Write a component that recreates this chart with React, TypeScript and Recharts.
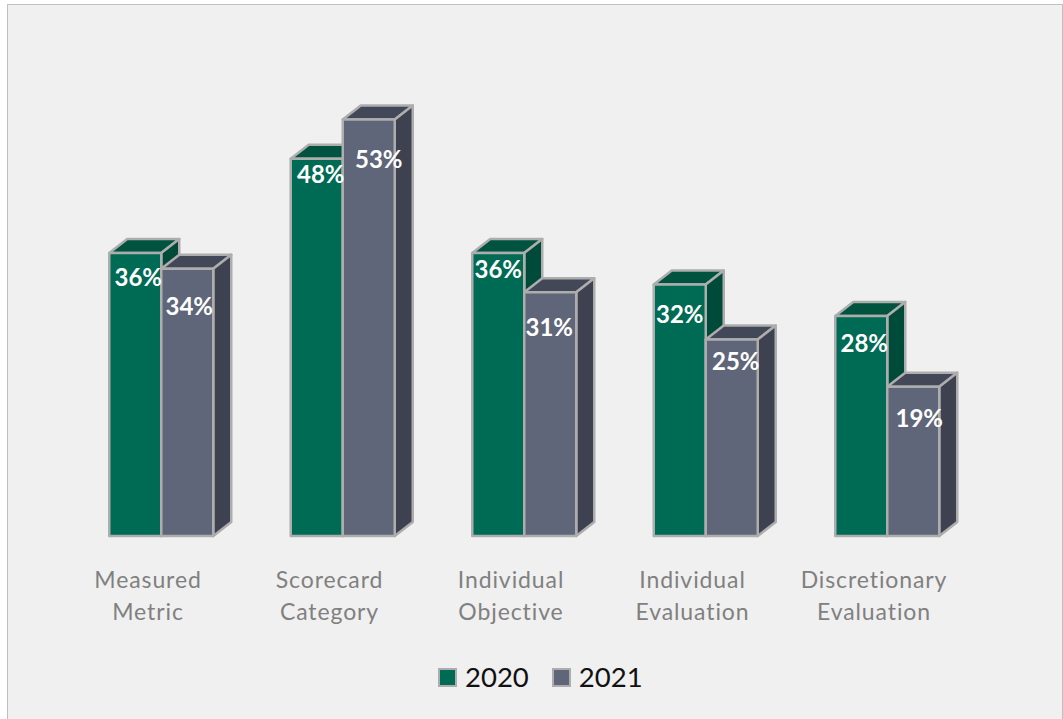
import { BarChart, Bar, XAxis, YAxis, Legend, LabelList } from 'recharts';

const categories = ['Measured Metric', 'Scorecard Category', 'Individual Objective', 'Individual Evaluation', 'Discretionary Evaluation'];
const values2020 = [36, 48, 36, 32, 28];
const values2021 = [34, 53, 31, 25, 19];

const data = categories.map((name, i) => ({ name, y2020: values2020[i], y2021: values2021[i] }));

// label nudges from the centre-top of each bar, the original labels were placed by hand
const nudge2020 = [[3, 23], [4, 15], [0, 15], [0, 29], [3, 27]];
const nudge2021 = [[2, 37], [10, 39], [-1, 34], [4, 21], [6, 31]];

const DX = 18;
const DY = 14;
const EDGE = '#adadad';

function box(front: string, top: string, side: string) {
  return (p: any) => {
    const { x, y, width: w, height: h } = p;
    return (
      <g stroke={EDGE} strokeWidth={2.5} strokeLinejoin="round">
        <polygon points={`${x},${y} ${x + DX},${y - DY} ${x + w + DX},${y - DY} ${x + w},${y}`} fill={top} />
        <polygon points={`${x + w},${y} ${x + w + DX},${y - DY} ${x + w + DX},${y + h - DY} ${x + w},${y + h}`} fill={side} />
        <rect x={x} y={y} width={w} height={h} fill={front} />
      </g>
    );
  };
}

function valueLabel(nudge: number[][]) {
  return (p: any) => {
    const [dx, dy] = nudge[p.index];
    return (
      <text
        x={p.x + p.width / 2 + dx}
        y={p.y + dy}
        textAnchor="middle"
        dominantBaseline="central"
        fill="#fff"
        fontWeight={700}
        fontSize={24}
        fontFamily="Lato"
      >
        {p.value}%
      </text>
    );
  };
}

function CategoryTick({ x, y, payload }: any) {
  const words = String(payload.value).split(' ');
  return (
    <g>
      {words.map((w, i) => (
        <text key={w} x={x - 13} y={y + 44 + i * 32} textAnchor="middle" fill="#808080" fontSize={23} letterSpacing={0.9} fontFamily="Lato">
          {w}
        </text>
      ))}
    </g>
  );
}

function LegendRow({ payload }: any) {
  return (
    <div style={{ display: 'flex', fontFamily: 'Lato', fontSize: 27.5, color: '#111', lineHeight: '34px' }}>
      {payload.map((e: any) => (
        <div key={e.value} style={{ display: 'flex', alignItems: 'center', marginRight: 23 }}>
          <span style={{ width: 15, height: 15, background: e.color, border: '2px solid #adadad', marginRight: 8 }} />
          {e.value}
        </div>
      ))}
    </div>
  );
}

export default function App() {
  return (
    <div style={{ position: 'absolute', left: 0, top: 0, width: 1063, height: 719, overflow: 'hidden', background: '#fff' }}>
      <div style={{ position: 'absolute', left: 7, top: 4, width: 1060, height: 730, background: '#f0f0f0', border: '1.5px solid #c0c0c0', boxSizing: 'border-box' }} />
      <div style={{ position: 'absolute', left: 1062, top: 4, width: 1, height: 715, background: '#c0c0c0' }} />
      <BarChart
        width={1063}
        height={719}
        data={data}
        barSize={52}
        barGap={0}
        margin={{ top: 64.4, right: 85.25, bottom: 53, left: 70.25 }}
        style={{ position: 'absolute', left: 0, top: 0 }}
      >
        <XAxis dataKey="name" axisLine={false} tickLine={false} height={70} interval={0} tick={<CategoryTick />} />
        <YAxis hide domain={[0, 60]} />
        <Legend
          height={60}
          content={<LegendRow />}
          wrapperStyle={{ left: 438, top: 660, width: 300, bottom: 'auto' }}
        />
        <Bar dataKey="y2020" name="2020" fill="#006b54" isAnimationActive={false} shape={box('#006b54', '#00533f', '#004a3a')}>
          <LabelList dataKey="y2020" content={valueLabel(nudge2020)} />
        </Bar>
        <Bar dataKey="y2021" name="2021" fill="#5f6679" isAnimationActive={false} shape={box('#5f6679', '#434859', '#3e4250')}>
          <LabelList dataKey="y2021" content={valueLabel(nudge2021)} />
        </Bar>
      </BarChart>
    </div>
  );
}
